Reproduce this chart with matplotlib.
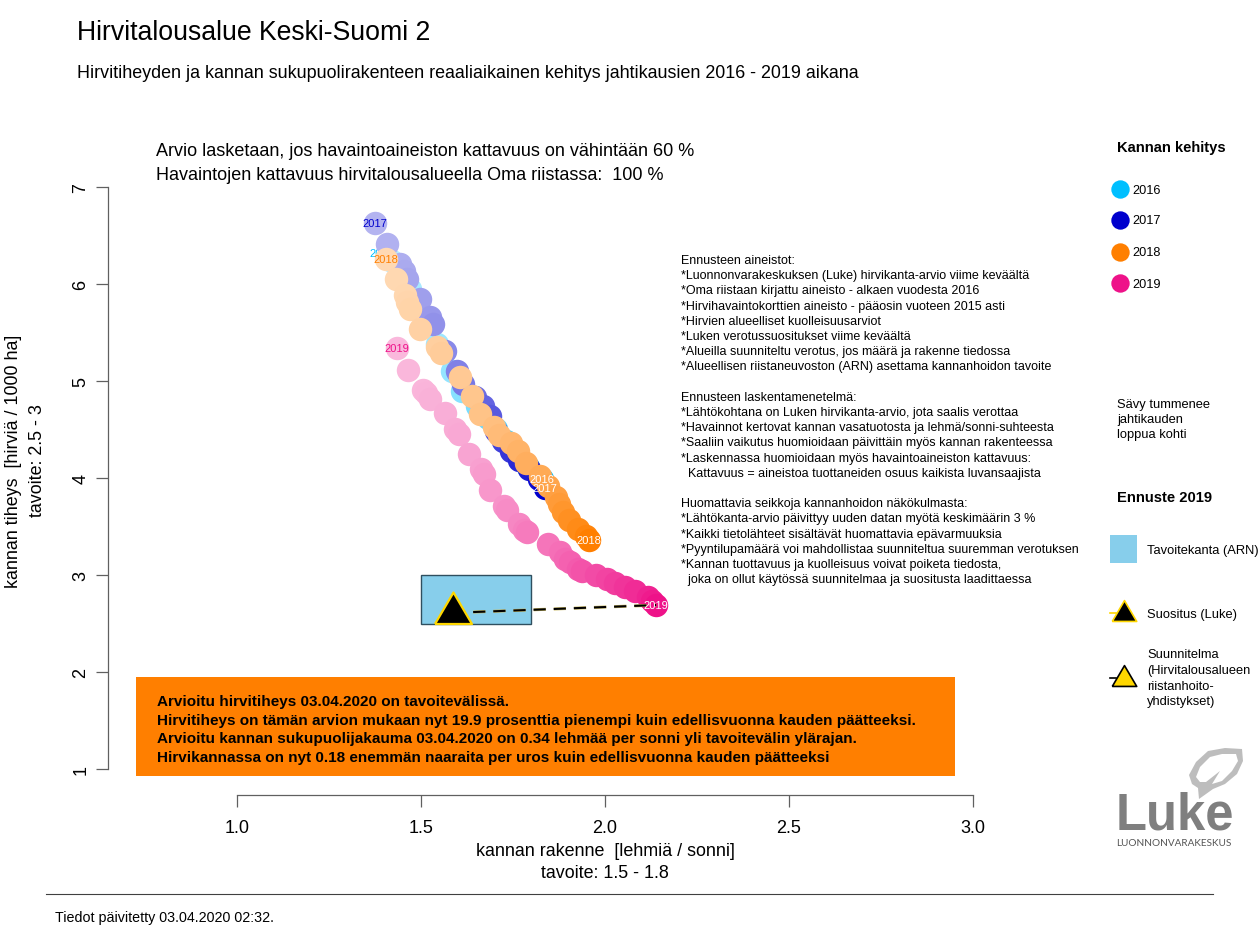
import matplotlib
matplotlib.use("Agg")
import matplotlib.pyplot as plt
from matplotlib.patches import Rectangle, Polygon
from matplotlib.colors import to_rgb
from matplotlib.markers import MarkerStyle

plt.rcParams['font.family'] = ['Liberation Sans', 'DejaVu Sans']

TITLE = "Hirvitalousalue Keski-Suomi 2"
SUBTITLE = "Hirvitiheyden ja kannan sukupuolirakenteen reaaliaikainen kehitys jahtikausien 2016 - 2019 aikana"
NOTE = ["Arvio lasketaan, jos havaintoaineiston kattavuus on vähintään 60 %",
        "Havaintojen kattavuus hirvitalousalueella Oma riistassa:  100 %"]
INFO = ["Ennusteen aineistot:",
        "*Luonnonvarakeskuksen (Luke) hirvikanta-arvio viime keväältä",
        "*Oma riistaan kirjattu aineisto - alkaen vuodesta 2016",
        "*Hirvihavaintokorttien aineisto - pääosin vuoteen 2015 asti",
        "*Hirvien alueelliset kuolleisuusarviot",
        "*Luken verotussuositukset viime keväältä",
        "*Alueilla suunniteltu verotus, jos määrä ja rakenne tiedossa",
        "*Alueellisen riistaneuvoston (ARN) asettama kannanhoidon tavoite",
        "",
        "Ennusteen laskentamenetelmä:",
        "*Lähtökohtana on Luken hirvikanta-arvio, jota saalis verottaa",
        "*Havainnot kertovat kannan vasatuotosta ja lehmä/sonni-suhteesta",
        "*Saaliin vaikutus huomioidaan päivittäin myös kannan rakenteessa",
        "*Laskennassa huomioidaan myös havaintoaineiston kattavuus:",
        "  Kattavuus = aineistoa tuottaneiden osuus kaikista luvansaajista",
        "",
        "Huomattavia seikkoja kannanhoidon näkökulmasta:",
        "*Lähtökanta-arvio päivittyy uuden datan myötä keskimäärin 3 %",
        "*Kaikki tietolähteet sisältävät huomattavia epävarmuuksia",
        "*Pyyntilupamäärä voi mahdollistaa suunniteltua suuremman verotuksen",
        "*Kannan tuottavuus ja kuolleisuus voivat poiketa tiedosta,",
        "  joka on ollut käytössä suunnitelmaa ja suositusta laadittaessa"]
BOX = ["Arvioitu hirvitiheys 03.04.2020 on tavoitevälissä.",
       "Hirvitiheys on tämän arvion mukaan nyt 19.9 prosenttia pienempi kuin edellisvuonna kauden päätteeksi.",
       "Arvioitu kannan sukupuolijakauma 03.04.2020 on 0.34 lehmää per sonni yli tavoitevälin ylärajan.",
       "Hirvikannassa on nyt 0.18 enemmän naaraita per uros kuin edellisvuonna kauden päätteeksi"]
XLABEL = ["kannan rakenne  [lehmiä / sonni]", "tavoite: 1.5 - 1.8"]
YLABEL = ["kannan tiheys  [hirviä / 1000 ha]", "tavoite: 2.5 - 3"]
FOOTER = "Tiedot päivitetty 03.04.2020 02:32."

xticks = [1.0, 1.5, 2.0, 2.5, 3.0]
xticklabels = ["1.0", "1.5", "2.0", "2.5", "3.0"]
yticks = [1, 2, 3, 4, 5, 6, 7]
yticklabels = ["1", "2", "3", "4", "5", "6", "7"]

years = ["2016", "2017", "2018", "2019"]
colors = ["#00BFFF", "#0000CD", "#FF7F00", "#EE1289"]

x2016 = [1.421, 1.443, 1.470, 1.543, 1.584, 1.611, 1.652, 1.682, 1.704, 1.731, 1.758, 1.791, 1.829]
y2016 = [6.24, 6.10, 5.95, 5.38, 5.10, 4.90, 4.745, 4.615, 4.505, 4.385, 4.255, 4.115, 3.99]
label2016 = (1.394, 6.32)

x2017 = [1.375, 1.408, 1.443, 1.454, 1.462, 1.497, 1.524, 1.533, 1.565, 1.598, 1.614, 1.646,
         1.668, 1.687, 1.704, 1.723, 1.744, 1.766, 1.793, 1.820, 1.837]
y2017 = [6.63, 6.41, 6.21, 6.13, 6.05, 5.85, 5.66, 5.59, 5.31, 5.10, 4.97, 4.84,
         4.74, 4.64, 4.48, 4.38, 4.28, 4.19, 4.09, 3.99, 3.90]

x2018 = [1.405, 1.432, 1.457, 1.462, 1.470, 1.497, 1.543, 1.554, 1.606, 1.639, 1.660, 1.698,
         1.712, 1.745, 1.764, 1.785, 1.823, 1.845, 1.867, 1.875, 1.886, 1.902, 1.927, 1.948, 1.957]
y2018 = [6.26, 6.05, 5.89, 5.81, 5.74, 5.54, 5.35, 5.29, 5.04, 4.85, 4.66, 4.53,
         4.44, 4.36, 4.28, 4.15, 4.02, 3.92, 3.80, 3.73, 3.65, 3.57, 3.47, 3.40, 3.36]

x2019 = [1.435, 1.465, 1.505, 1.514, 1.524, 1.565, 1.592, 1.603, 1.630, 1.663, 1.671, 1.688,
         1.726, 1.734, 1.766, 1.780, 1.788, 1.845, 1.878, 1.891, 1.905, 1.927, 1.938, 1.976,
         2.005, 2.027, 2.054, 2.082, 2.117, 2.128, 2.139]
y2019 = [5.34, 5.11, 4.91, 4.88, 4.81, 4.67, 4.51, 4.45, 4.25, 4.09, 4.04, 3.88,
         3.71, 3.67, 3.53, 3.46, 3.44, 3.32, 3.24, 3.16, 3.13, 3.06, 3.04, 3.00,
         2.96, 2.92, 2.88, 2.84, 2.77, 2.73, 2.69]
series = [(x2016, y2016), (x2017, y2017), (x2018, y2018), (x2019, y2019)]

target_x = [1.5, 1.8]
target_y = [2.5, 3.0]
recommend_x, recommend_y = 1.587, 2.61

# closed triangle marker with its centroid on the data point, as in R's pch 24
TRI = MarkerStyle([(-0.88, -0.5), (0.88, -0.5), (0, 1.0), (-0.88, -0.5)], joinstyle='miter')

def shade(c, a):
    r = to_rgb(c)
    return tuple(1 - a * (1 - v) for v in r)

W, H = 1260, 945
fig = plt.figure(figsize=(12.6, 9.45), dpi=100, facecolor='white')
ax = fig.add_axes([0, 0, 1, 1], facecolor='none')
PX_X, PX_Y = 368.0, 97.0
ax.set_xlim(1 - 237 / PX_X, 1 + (W - 237) / PX_X)
ax.set_ylim(1 - (H - 770) / PX_Y, 1 + 770 / PX_Y)

AXC = '#606060'
for s in ('top', 'right'):
    ax.spines[s].set_visible(False)
for s in ('left', 'bottom'):
    ax.spines[s].set_color(AXC)
    ax.spines[s].set_linewidth(0.9)
ax.spines['left'].set_position(('data', 1 + (108 - 237) / PX_X))
ax.spines['left'].set_bounds(1, 7)
ax.spines['bottom'].set_position(('data', 1 + (770 - 796) / PX_Y))
ax.spines['bottom'].set_bounds(1, 3)
ax.set_xticks(xticks, xticklabels, fontsize=13)
ax.set_yticks(yticks, yticklabels, fontsize=13, rotation=90, va='center')
ax.tick_params(axis='x', length=8.5, width=0.9, pad=9, color=AXC)
ax.tick_params(axis='y', length=8.5, width=0.9, pad=5, color=AXC)

ax.add_patch(Rectangle((target_x[0], target_y[0]), target_x[1] - target_x[0], target_y[1] - target_y[0],
                       facecolor='#87CEEB', edgecolor='#2F4F5F', lw=1, zorder=2))

z = 3.0
for k, ((xs, ys), c, yr) in enumerate(zip(series, colors, years)):
    n = len(xs)
    for i, (x, y) in enumerate(zip(xs, ys)):
        a = 0.30 + 0.70 * (i / (n - 1)) ** 1.6
        z += 0.001
        ax.scatter([x], [y], s=285, color=[shade(c, a)], linewidths=0, zorder=z)
    z += 0.001
    lx, ly = (label2016 if k == 0 else (xs[0], ys[0]))
    ax.text(lx, ly, yr, color=c, fontsize=8, ha='center', va='center', zorder=z)
for (xs, ys), yr in zip(series, years):
    ax.text(xs[-1], ys[-1], yr, color='white', fontsize=8, ha='center', va='center', zorder=6.5)

ax.plot([recommend_x, x2019[-1]], [recommend_y, y2019[-1]], color='#C8B860', lw=2.2,
        ls=(0, (4.0, 2.6)), zorder=6, dash_capstyle='butt')
ax.plot([recommend_x, x2019[-1]], [recommend_y, y2019[-1]], color='black', lw=1.5,
        ls=(0, (5.87, 3.8)), zorder=6, dash_capstyle='butt')
ax.scatter([recommend_x], [recommend_y], marker=TRI, s=915, facecolor='black',
           edgecolor='#FFD700', linewidths=1.6, zorder=7)

ax.add_patch(Rectangle((1 + (136 - 237) / PX_X, 1 + (770 - 777) / PX_Y), 819 / PX_X, 99 / PX_Y,
                       facecolor='#FF7F00', edgecolor='none', zorder=8))

ov = fig.add_axes([0, 0, 1, 1], facecolor='none')
ov.set_xlim(0, W)
ov.set_ylim(H, 0)
ov.axis('off')

def T(x, y, s, size, **kw):
    kw.setdefault('va', 'center')
    kw.setdefault('color', 'black')
    ov.text(x, y, s, fontsize=size, **kw)

T(77, 33, TITLE, 19.2)
T(77, 73, SUBTITLE, 12.88)
T(156, 151, NOTE[0], 12.95)
T(156, 176, NOTE[1], 12.95)
for i, line in enumerate(INFO):
    T(681, 261 + i * 15.2, line, 8.98)
for i, line in enumerate(BOX):
    T(157, 702 + i * 18.7, line, 11.0, fontweight='bold', zorder=10)
T(605, 851, XLABEL[0], 12.9, ha='center')
T(605, 873, XLABEL[1], 12.9, ha='center')
T(14, 461, YLABEL[0], 12.9, rotation=90, ha='center')
T(37, 461, YLABEL[1], 12.9, rotation=90, ha='center')
T(55, 918, FOOTER, 10.3)
ov.plot([46, 1213], [895, 895], color='#404040', lw=0.8)

T(1117, 148, "Kannan kehitys", 10.6, fontweight='bold')
for yr, c, py in zip(years, colors, [189.5, 220.5, 252.5, 283.5]):
    ov.scatter([1120], [py], s=175, color=c, linewidths=0)
    T(1132, py + 1, yr, 9.2)
for i, s in enumerate(["Sävy tummenee", "jahtikauden", "loppua kohti"]):
    T(1117, 405 + i * 15.2, s, 9.3)
T(1117, 498, "Ennuste 2019", 10.6, fontweight='bold')
ov.add_patch(Rectangle((1110, 536), 27, 28, facecolor='#87CEEB', edgecolor='none'))
T(1147, 551, "Tavoitekanta (ARN)", 9.3)
ov.plot([1110, 1116], [614, 614], color='#FFD700', lw=1.2)
ov.plot([1110, 1116], [679, 679], color='black', lw=1.2)
ov.scatter([1123.5], [614.5], marker=TRI, s=400, facecolor='black', edgecolor='#FFD700', linewidths=1.2)
T(1147, 615, "Suositus (Luke)", 9.3)
ov.scatter([1123.5], [679.5], marker=TRI, s=400, facecolor='#FFD700', edgecolor='black', linewidths=1.2)
for i, s in enumerate(["Suunnitelma", "(Hirvitalousalueen", "riistanhoito-", "yhdistykset)"]):
    T(1147, 655 + i * 15.8, s, 9.3)

# logo
ov.add_patch(Polygon([(1242, 750), (1225, 749), (1208, 752), (1196, 763), (1189, 776), (1192, 785),
                      (1198, 789), (1199, 800), (1213, 790), (1225, 785), (1237, 775), (1243, 762)],
                     closed=True, facecolor='#BDBDBD', edgecolor='none'))
ov.add_patch(Polygon([(1236, 755), (1222, 755), (1210, 758), (1200, 768), (1196, 778), (1200, 783),
                      (1206, 783), (1220, 772), (1212, 785), (1222, 782), (1232, 772), (1238, 762)],
                     closed=True, facecolor='white', edgecolor='none'))
T(1175, 830, "Luke", 36.5, fontweight='bold', color='#7F7F7F', ha='center', va='baseline')
T(1174, 844, "LUONNONVARAKESKUS", 7.2, color='#555555', ha='center', family=['Lato', 'DejaVu Sans'])

fig.savefig("out.png", dpi=100)
